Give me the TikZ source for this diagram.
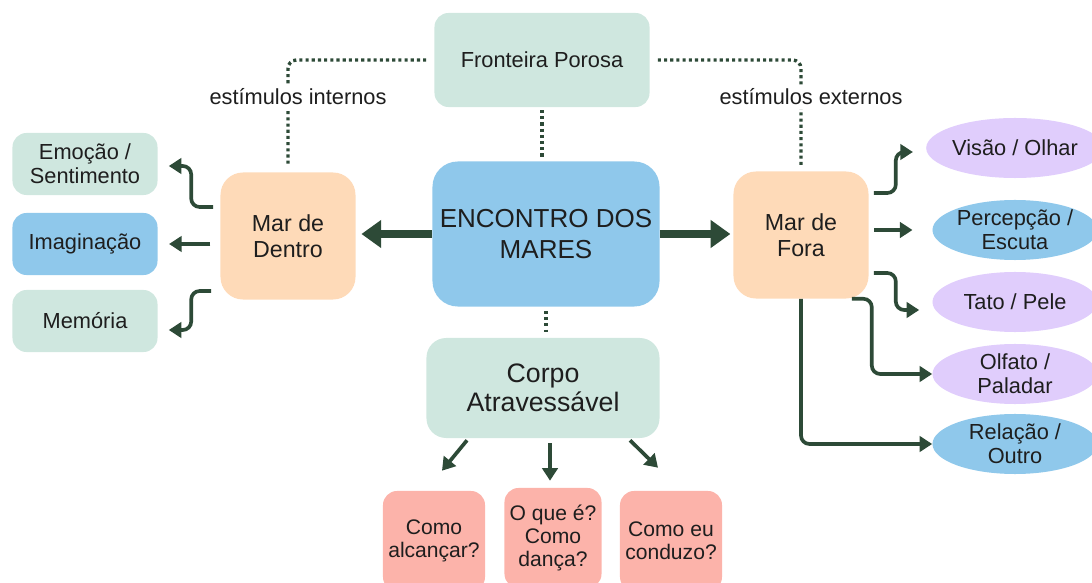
\documentclass[tikz,border=0pt]{standalone}
\usepackage{fontspec}
\setmainfont{Liberation Sans}
\usetikzlibrary{arrows.meta,shapes.geometric}
\definecolor{menta}{HTML}{CFE7DF}
\definecolor{azul}{HTML}{8FC8EB}
\definecolor{pessego}{HTML}{FEDAB8}
\definecolor{lilas}{HTML}{E0CDFC}
\definecolor{rosa}{HTML}{FCB3AA}
\definecolor{verde}{HTML}{2D4A37}
\definecolor{texto}{HTML}{1E1E1E}

\begin{document}
\begin{tikzpicture}[x=0.025cm,y=-0.025cm,
	caixa/.style={rounded corners=10pt,inner sep=0pt,align=center,text=texto,font=\fontsize{15.5}{17}\selectfont},
	mar/.style={caixa,fill=pessego,rounded corners=16pt,minimum width=3.375cm,minimum height=3.175cm,font=\fontsize{16.5}{18.5}\selectfont},
	lado/.style={caixa,minimum width=3.625cm,minimum height=1.55cm},
	elipse/.style={ellipse,inner sep=0pt,align=center,text=texto,font=\fontsize{15.5}{17}\selectfont,minimum width=4.125cm,minimum height=1.5cm},
	pergunta/.style={caixa,fill=rosa,minimum width=2.55cm,minimum height=2.5cm,font=\fontsize{15}{16.5}\selectfont},
	seta/.style={draw=verde,line width=2.6pt,rounded corners=6pt,-{Triangle[length=9pt,width=11pt]}},
	setagrossa/.style={draw=verde,line width=5pt,-{Triangle[length=14pt,width=19pt]}},
	pontos/.style={draw=verde,line width=2.4pt,dash pattern=on 2.2pt off 2.2pt,rounded corners=6pt},
	rotulo/.style={fill=white,inner sep=3pt,text=texto,font=\fontsize{15.5}{17}\selectfont}]
\useasboundingbox (0,0) rectangle (1092,583);

% caixas
\node[caixa,fill=menta,minimum width=5.375cm,minimum height=2.35cm] (fronteira) at (542,60) {Fronteira Porosa};
\node[caixa,fill=azul,rounded corners=18pt,minimum width=5.675cm,minimum height=3.625cm,font=\fontsize{18.5}{21.5}\selectfont] (encontro) at (546,234) {ENCONTRO DOS\\MARES};
\node[mar] (dentro) at (288,236) {Mar de\\Dentro};
\node[mar] (fora) at (801,235) {Mar de\\Fora};
\node[lado,fill=menta] (emocao) at (85,164) {Emoção /\\Sentimento};
\node[lado,fill=azul] (imaginacao) at (85,244) {Imaginação};
\node[lado,fill=menta] (memoria) at (85,321) {Memória};
\node[elipse,fill=lilas] (visao) at (1015,148) {Visão / Olhar};
\node[elipse,fill=azul] (percepcao) at (1015,230) {Percepção /\\Escuta};
\node[elipse,fill=lilas] (tato) at (1015,302) {Tato / Pele};
\node[elipse,fill=lilas] (olfato) at (1015,374) {Olfato /\\Paladar};
\node[elipse,fill=azul] (relacao) at (1015,444) {Relação /\\Outro};
\node[caixa,fill=menta,rounded corners=14pt,minimum width=5.825cm,minimum height=2.5cm,font=\fontsize{19}{21}\selectfont] (corpo) at (543,388) {Corpo\\Atravessável};
\node[pergunta] (alcancar) at (434,541) {Como\\alcançar?};
\node[pergunta,minimum width=2.425cm] (danca) at (553,538) {O que é?\\Como\\dança?};
\node[pergunta] (conduzo) at (671,541) {Como eu\\conduzo?};

% fronteira porosa
\draw[pontos,shorten >=4pt] ([shift={(-8,0)}]fronteira.west) -| (dentro.north);
\draw[pontos,shorten >=4pt] ([shift={(8,0)}]fronteira.east) -| (fora.north);
\draw[pontos,shorten <=2pt,shorten >=3pt] (fronteira.south) -- (fronteira.south |- encontro.north);
\draw[pontos,shorten <=3pt,shorten >=4pt] (encontro.south) -- (encontro.south |- corpo.north);
\node[rotulo] (internos) at (298,97) {estímulos internos};
\node[rotulo] (externos) at (811,97) {estímulos externos};

% mares
\draw[setagrossa,shorten >=4pt] (encontro.west) -- (encontro.west -| dentro.east);
\draw[setagrossa,shorten >=2pt] (encontro.east) -- (encontro.east -| fora.west);

\draw[seta] ([shift={(-7,-29)}]dentro.west) -- ++(-22,0) |- ([shift={(11,2)}]emocao.east);
\draw[seta] ([xshift=-7pt]dentro.west |- imaginacao.east) -- ([xshift=8pt]imaginacao.east);
\draw[seta] ([shift={(-9,55)}]dentro.west) -- ++(-20,0) |- ([shift={(11,9)}]memoria.east);

\draw[seta] ([shift={(5,-42)}]fora.east) -- ++(22,0) |- ([shift={(-13,4)}]visao.west);
\draw[seta] ([xshift=4pt]fora.east |- percepcao.west) -- ([xshift=-14pt]percepcao.west);
\draw[seta] ([shift={(5,38)}]fora.east) -- ++(22,0) |- ([shift={(-13,8)}]tato.west);
\draw[seta] ([shift={(-17,0)}]fora.south east) -- ++(20,0) |- (olfato.west);
\draw[seta] (fora.south) |- (relacao.west);

% corpo
\draw[seta] ([shift={(-76,2)}]corpo.south) -- ([shift={(8,-20)}]alcancar.north);
\draw[seta] ([shift={(7,5)}]corpo.south) -- ([shift={(-3,-7)}]danca.north);
\draw[seta] ([shift={(87,2)}]corpo.south) -- ([shift={(-13,-23)}]conduzo.north);
\end{tikzpicture}
\end{document}
